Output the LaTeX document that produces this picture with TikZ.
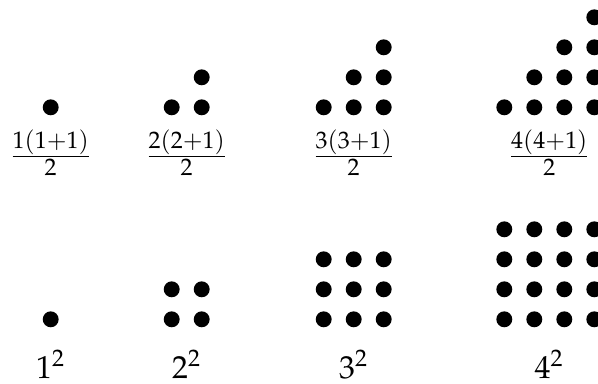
\documentclass[tikz,border=0pt]{standalone}
\usepackage{mathpazo}
\begin{document}
\begin{tikzpicture}[x=0.013245cm, y=-0.013245cm,
  dot/.style={circle, fill=black, draw=none, inner sep=0pt, minimum size=6pt},
  lab/.style={font=\fontsize{12}{14}\selectfont, inner sep=0pt, anchor=base}]
\useasboundingbox (0,0) rectangle (598,383);
\foreach \k/\xs in {1/{50.7}, 2/{171.7,201.7}, 3/{323.7,353.7,383.7}, 4/{504.3,534.3,564.3,594.3}} {
  \foreach \x [count=\j] in \xs {
    \foreach \i in {1,...,\j}
      \node[dot] (t\k-\j-\i) at (\x, {107.3-30*(\i-1)}) {};
    \foreach \i in {1,...,\k}
      \node[dot] (s\k-\j-\i) at (\x, {319.3-30*(\i-1)}) {};
  }
}
\node[lab] (f1) at (50.7,164.7) {$\frac{1(1+1)}{2}$};
\node[lab] (f2) at (186.7,164.7) {$\frac{2(2+1)}{2}$};
\node[lab] (f3) at (353.7,164.7) {$\frac{3(3+1)}{2}$};
\node[lab] (f4) at (549.3,164.7) {$\frac{4(4+1)}{2}$};
\node[lab] (q1) at (50.7,378.3) {$1^2$};
\node[lab] (q2) at (186.7,378.3) {$2^2$};
\node[lab] (q3) at (353.7,378.3) {$3^2$};
\node[lab] (q4) at (549.3,378.3) {$4^2$};
\end{tikzpicture}
\end{document}
